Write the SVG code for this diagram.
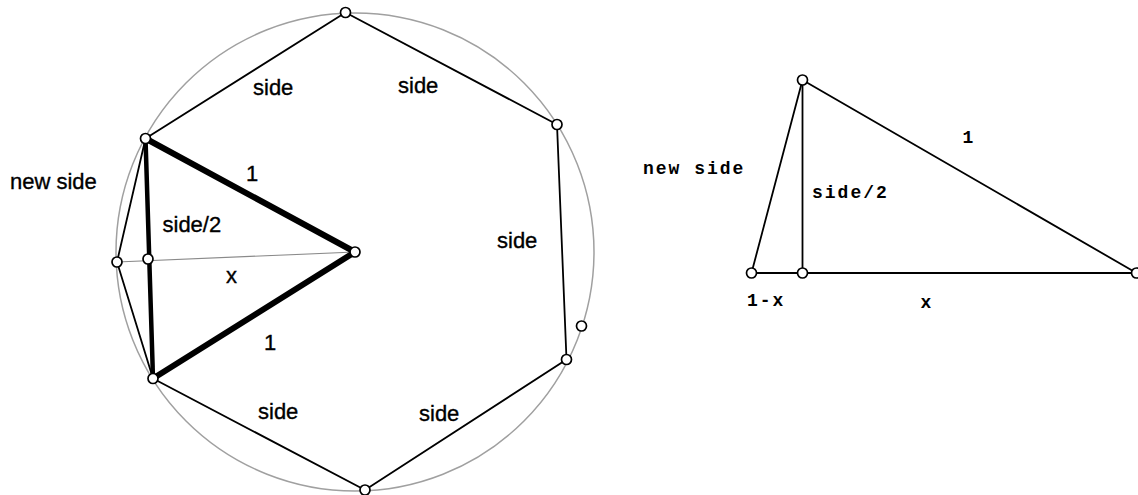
<svg xmlns="http://www.w3.org/2000/svg" width="1138" height="495" viewBox="0 0 1138 495">
<style>
.ln{stroke:#000;stroke-width:1.8;fill:none;stroke-linecap:round}
.thick{stroke:#000;stroke-width:6;fill:none;stroke-linecap:round}
.thin{stroke:#8a8a8a;stroke-width:1.2;fill:none}
.circ{stroke:#a0a0a0;stroke-width:1.5;fill:none}
.pt{fill:#fff;stroke:#000;stroke-width:1.7}
.sans{font-family:"Liberation Sans",Arial,sans-serif;font-size:22px;fill:#000;stroke:#000;stroke-width:0.35}
.mono{font-family:"Liberation Mono","Courier New",monospace;font-size:18px;font-weight:bold;fill:#000;letter-spacing:2px}
.mono1{font-family:"Liberation Mono","Courier New",monospace;font-size:18px;font-weight:bold;fill:#000;text-anchor:middle}
</style>
<g id="circle"><circle class="circ" cx="355" cy="252" r="239"/></g>
<g id="connectors">
<polyline class="ln" points="145.5,138.5 345.5,12.5 557,124.5 566.5,359.5 365,490 153,378.5"/>
<polyline class="ln" points="145.5,138.5 117,262 153,378.5"/>
<line class="thin" x1="117" y1="262" x2="355" y2="252"/>
<line stroke="#000" stroke-width="4.5" x1="145.5" y1="138.5" x2="153" y2="378.5"/>
<polyline class="thick" stroke-linejoin="round" points="145.5,138.5 355,252 153,378.5"/>
<line class="ln" x1="802.5" y1="80" x2="751.5" y2="273"/>
<line class="ln" x1="802.5" y1="80" x2="802.5" y2="273"/>
<line class="ln" x1="802.5" y1="80" x2="1136.5" y2="273"/>
<line class="ln" stroke-width="2.4" x1="751.5" y1="273" x2="1136.5" y2="273"/>
</g>
<g id="points">
<circle class="pt" cx="145.5" cy="138.5" r="5"/>
<circle class="pt" cx="345.5" cy="12.5" r="5"/>
<circle class="pt" cx="557" cy="124.5" r="5"/>
<circle class="pt" cx="566.5" cy="359.5" r="5"/>
<circle class="pt" cx="365" cy="490" r="5"/>
<circle class="pt" cx="153" cy="378.5" r="5"/>
<circle class="pt" cx="117" cy="262" r="5"/>
<circle class="pt" cx="148" cy="259" r="5"/>
<circle class="pt" cx="355" cy="252" r="5"/>
<circle class="pt" cx="581.5" cy="326" r="5"/>
<circle class="pt" cx="802.5" cy="80" r="5"/>
<circle class="pt" cx="751.5" cy="273" r="5"/>
<circle class="pt" cx="802.5" cy="273" r="5"/>
<circle class="pt" cx="1136.5" cy="273" r="5"/>
</g>
<g id="labels">
<text class="sans" x="10" y="189">new side</text>
<text class="sans" x="253" y="95">side</text>
<text class="sans" x="398" y="93">side</text>
<text class="sans" x="497" y="248">side</text>
<text class="sans" x="258" y="419">side</text>
<text class="sans" x="419" y="421">side</text>
<text class="sans" x="162.5" y="232">side/2</text>
<text class="sans" x="226" y="283">x</text>
<text class="sans" x="246" y="181">1</text>
<text class="sans" x="264" y="349.5">1</text>
<text class="mono" x="643" y="174">new side</text>
<text class="mono" x="812" y="198">side/2</text>
<text class="mono" x="747" y="306">1-x</text>
<text class="mono1" x="926" y="308">x</text>
<text class="mono1" x="968" y="143">1</text>
</g>
</svg>
